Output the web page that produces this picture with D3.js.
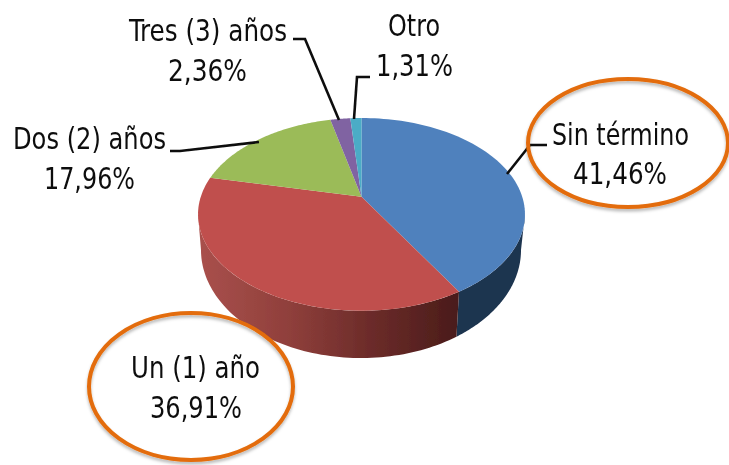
<!DOCTYPE html>
<html><head><meta charset="utf-8">
<script src="https://cdn.jsdelivr.net/npm/d3@7/dist/d3.min.js"></script>
<style>html,body{margin:0;background:#fff}svg{display:block}text{font-family:"DejaVu Sans",sans-serif;font-stretch:condensed;fill:#111}</style>
</head><body><svg id="c" width="729" height="465"></svg>
<script>
const categories=["Sin término","Un (1) año","Dos (2) años","Tres (3) años","Otro"];
const values=[41.46,36.91,17.96,2.36,1.31];
const valueLabels=["41,46%","36,91%","17,96%","2,36%","1,31%"];
const colors=["#4f81bd","#c0504d","#9bbb59","#8064a2","#4bacc6"];

const svg=d3.select("#c");
const defs=svg.append("defs");
defs.append("filter").attr("id","soft").append("feGaussianBlur").attr("stdDeviation",0.45);
const sh=defs.append("filter").attr("id","shadow").attr("x","-10%").attr("y","-10%").attr("width","120%").attr("height","125%");
sh.append("feDropShadow").attr("dx",0).attr("dy",2.5).attr("stdDeviation",1.8).attr("flood-color","#000").attr("flood-opacity",0.28);

const a=0.1832;
const topDisc={cx:361.5,cy:196.7,kx:160.7,ky:93.1};
const baseDisc={cx:361,cy:230.2,kx:157.3,ky:104.4};
function proj(t,p){
  const u=Math.sin(t),v=-Math.cos(t),w=1-a*v;
  return [p.cx+p.kx*u/w,p.cy+p.ky*v/w];
}
const pie=d3.pie().sort(null).value(d=>d).startAngle(0).endAngle(2*Math.PI);
const arcs=pie(values);
const line=d3.line();
const arcPts=(t0,t1,p)=>d3.range(0,81).map(i=>proj(t0+(t1-t0)*i/80,p));
const rightT=Math.PI-Math.acos(a), leftT=Math.PI+Math.acos(a);

const redGrad=defs.append("linearGradient").attr("id","wallRed").attr("gradientUnits","userSpaceOnUse")
  .attr("x1",200).attr("x2",458).attr("y1",0).attr("y2",0);
[[0,"#a9504c"],[0.35,"#8f3f3b"],[0.65,"#6d2c2a"],[1,"#4a1c1a"]].forEach(s=>redGrad.append("stop").attr("offset",s[0]).attr("stop-color",s[1]));

const g=svg.append("g").attr("filter","url(#soft)");
const blueEnd=arcs[0].endAngle;
g.append("path").attr("fill","#1f344f")
 .attr("d",line([...arcPts(rightT,blueEnd,topDisc),...arcPts(blueEnd,rightT,baseDisc)])+"Z");
g.append("path").attr("fill","url(#wallRed)")
 .attr("d",line([...arcPts(blueEnd,leftT,topDisc),...arcPts(leftT,blueEnd,baseDisc)])+"Z");
g.selectAll("path.top").data(arcs).join("path").attr("class","top")
 .attr("fill",(d,i)=>colors[i])
 .attr("d",d=>line([[topDisc.cx,topDisc.cy],...arcPts(d.startAngle,d.endAngle,topDisc)])+"Z");

const leaders=[
 [[507,174],[530,145],[547,145]],
 [[259,142],[180,151],[170,151]],
 [[339,120],[305,39],[293,39]],
 [[354,119],[357,77],[370,77]]
];
g.selectAll("path.lead").data(leaders).join("path").attr("class","lead")
 .attr("fill","none").attr("stroke","#111").attr("stroke-width",2.6).attr("d",d=>line(d));

const ovals=[[628,143,100,64],[191,386.5,102,73.5]];
g.append("g").attr("filter","url(#shadow)").selectAll("ellipse").data(ovals).join("ellipse")
 .attr("cx",d=>d[0]).attr("cy",d=>d[1]).attr("rx",d=>d[2]).attr("ry",d=>d[3])
 .attr("fill","none").attr("stroke","#e36c0a").attr("stroke-width",4);

const labelBox=[
 [[552,689,145],[573,667,184]],
 [[131,260,378],[150,242,418]],
 [[13,166,149],[44,135,189]],
 [[129,287,41],[168,247,81]],
 [[388,440,36],[376,453,76]]
];
categories.forEach((c,i)=>{
  [c,valueLabels[i]].forEach((t,j)=>{
    const b=labelBox[i][j];
    g.append("text").attr("x",b[0]).attr("y",b[2]).attr("font-size",31)
      .attr("textLength",b[1]-b[0]).attr("lengthAdjust","spacingAndGlyphs").text(t);
  });
});
</script></body></html>
